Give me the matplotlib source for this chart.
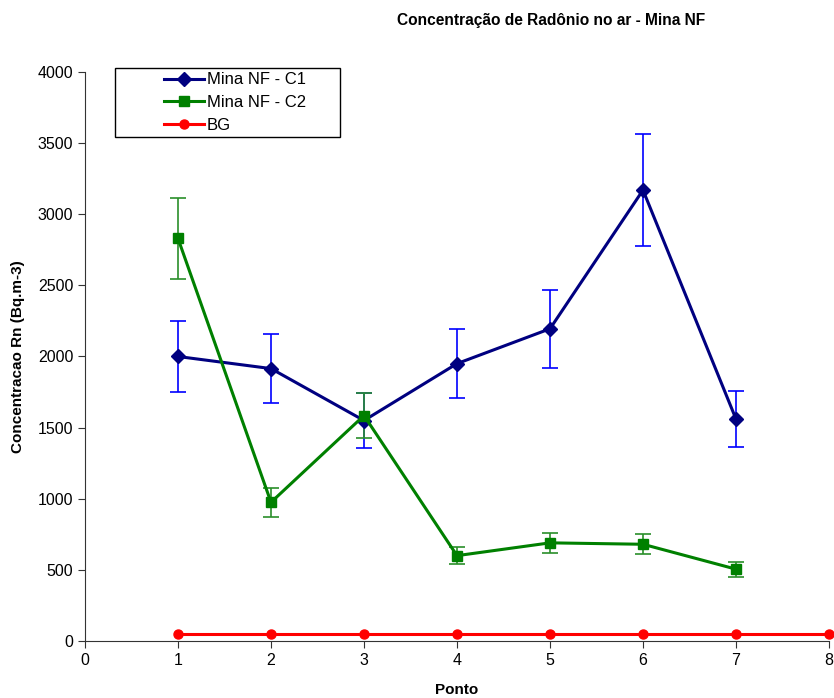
import matplotlib.pyplot as plt
from matplotlib.patches import Rectangle
import numpy as np

plt.rcParams['font.family'] = ['Liberation Sans', 'DejaVu Sans']

ponto = [1, 2, 3, 4, 5, 6, 7]
c1 = [2000, 1915, 1550, 1950, 2195, 3170, 1560]
c1_err = [250, 240, 195, 245, 275, 395, 197]
c2 = [2830, 975, 1585, 600, 690, 680, 505]
c2_err = [285, 100, 160, 62, 70, 70, 52]
ponto_bg = [1, 2, 3, 4, 5, 6, 7, 8]
bg = [50, 50, 50, 50, 50, 50, 50, 50]

fig = plt.figure(figsize=(8.34, 6.98), dpi=100)
ax = fig.add_axes([85 / 834, 57 / 698, 744 / 834, 569 / 698])

ax.errorbar(ponto, c1, yerr=c1_err, fmt='none', ecolor='#0000ff', elinewidth=1.2,
            capsize=6, capthick=1.2, zorder=2)
ax.plot(ponto, c1, color='#000080', lw=2.2, marker='D', ms=7.5, label='Mina NF - C1', zorder=3)

ax.errorbar(ponto, c2, yerr=c2_err, fmt='none', ecolor='#2a8f2a', elinewidth=1.2,
            capsize=6, capthick=1.2, zorder=2)
ax.plot(ponto, c2, color='#008000', lw=2.2, marker='s', ms=7, label='Mina NF - C2', zorder=3)

ax.plot(ponto_bg, bg, color='#ff0000', lw=2.2, marker='o', ms=6.5, label='BG',
        zorder=4, clip_on=False)

ax.set_xlim(0, 8)
ax.set_ylim(0, 4000)
ax.set_xticks(np.arange(0, 9, 1))
ax.set_yticks(np.arange(0, 4001, 500))
ax.tick_params(direction='out', length=5, labelsize=11.5, color='#333333')
for s in ['top', 'right']:
    ax.spines[s].set_visible(False)
for s in ['left', 'bottom']:
    ax.spines[s].set_color('#333333')

ax.set_xlabel('Ponto', fontsize=11, fontweight='bold', labelpad=11)
ax.set_ylabel('Concentracao Rn (Bq.m-3)', fontsize=11, fontweight='bold', labelpad=9)
fig.text(551 / 834, 1 - 20 / 698, 'Concentração de Radônio no ar - Mina NF',
         ha='center', va='center', fontsize=11.2, fontweight='bold')

# legend box drawn separately so the entries sit centred inside it
box = Rectangle((115 / 834, 1 - 137 / 698), 225 / 834, 69 / 698, transform=fig.transFigure,
                facecolor='white', edgecolor='black', lw=1.0, zorder=5, clip_on=False)
ax.add_patch(box)
leg = ax.legend(loc='center', bbox_to_anchor=(235 / 834, 1 - 102.5 / 698),
                bbox_transform=fig.transFigure, frameon=False, fontsize=12,
                handlelength=2.4, borderpad=0.0, labelspacing=0.45, handletextpad=0.15)
leg.set_zorder(6)

fig.savefig('out.png', dpi=100)
